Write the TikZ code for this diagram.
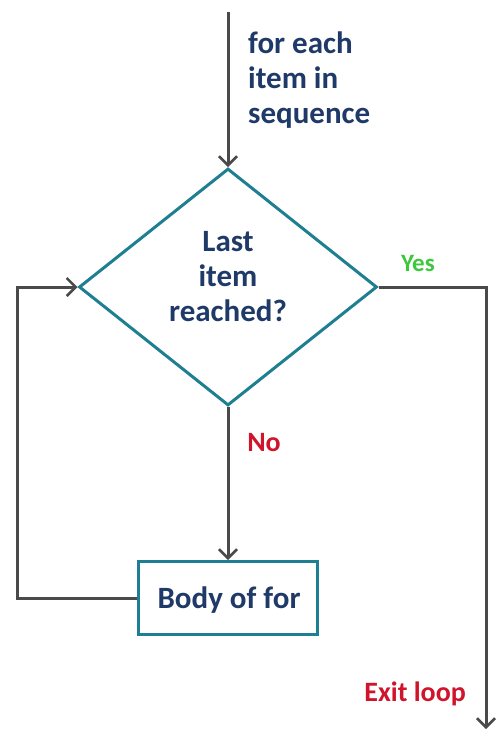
\documentclass[tikz,border=0pt]{standalone}
\usepackage{fontspec}
\setmainfont{Carlito}
\usetikzlibrary{shapes.geometric,arrows.meta}

\definecolor{linegray}{HTML}{4A4A4A}
\definecolor{shapeteal}{HTML}{1F7F92}
\definecolor{textnavy}{HTML}{1F3A68}
\definecolor{yesgreen}{HTML}{3CC83C}
\definecolor{nored}{HTML}{D0142C}

\tikzset{
  flow/.style={draw=linegray, line width=3pt,
    -{Straight Barb[length=9pt, width=18pt, line width=2.5pt]}},
  plain/.style={draw=linegray, line width=3pt},
  decision/.style={diamond, draw=shapeteal, line width=3pt, fill=white,
    inner sep=0pt, minimum width=298pt, minimum height=237pt},
  process/.style={rectangle, draw=shapeteal, line width=3pt, fill=white,
    minimum width=179pt, minimum height=73pt},
  mainlabel/.style={font=\bfseries\fontsize{31}{35}\selectfont,
    text=textnavy, inner sep=0pt},
  branch/.style={font=\bfseries\fontsize{28}{32}\selectfont, inner sep=0pt}
}

\begin{document}
\begin{tikzpicture}[x=1pt, y=-1pt]
  \useasboundingbox (0,0) rectangle (498,731);

  % shapes
  \node[decision] (test) at (228,287) {};
  \node[mainlabel, align=center] (testtxt) at (228,277)
    {Last\\item\\reached?};
  \node[process] (body) at (228,598) {};
  \node[mainlabel] (bodytxt) at (229,600) {Body of for};

  % entry
  \coordinate (start) at (228,12);
  \node[mainlabel, align=left, anchor=west] (seq) at (248,80)
    {for each\\item in\\sequence};
  \draw[flow] (start) -- (test.north);

  % No branch
  \draw[flow] (test.south) -- (body.north);
  \node[branch, text=nored] (no) at (264,443) {No};

  % loop back
  \coordinate (lb) at (17,598);
  \coordinate (lt) at (17,287);
  \draw[flow] (body.west) -- (lb) -- (lt) -- (test.west);

  % Yes branch / exit
  \coordinate (rt) at (486,287);
  \coordinate (exit) at (486,729);
  \draw[flow] (test.east) -- (rt) -- (exit);
  \node[branch, text=yesgreen, font=\bfseries\fontsize{25}{30}\selectfont]
    (yes) at (418,263) {Yes};
  \node[branch, text=nored, anchor=east] (exitlbl) at (466,694) {Exit loop};
\end{tikzpicture}
\end{document}
